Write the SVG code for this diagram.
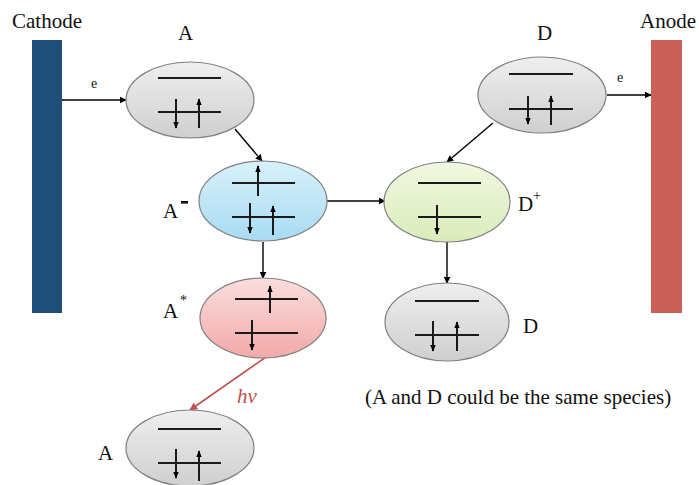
<svg xmlns="http://www.w3.org/2000/svg" width="699" height="485" viewBox="0 0 699 485">
  <defs>
    <linearGradient id="gGray" x1="0" y1="0" x2="0" y2="1">
      <stop offset="0" stop-color="#efefef"/>
      <stop offset="1" stop-color="#cfcfcf"/>
    </linearGradient>
    <linearGradient id="gBlue" x1="0" y1="0" x2="0" y2="1">
      <stop offset="0" stop-color="#d8f1fb"/>
      <stop offset="1" stop-color="#a8dbf2"/>
    </linearGradient>
    <linearGradient id="gPink" x1="0" y1="0" x2="0" y2="1">
      <stop offset="0" stop-color="#fbdede"/>
      <stop offset="1" stop-color="#f3a9a9"/>
    </linearGradient>
    <linearGradient id="gGreen" x1="0" y1="0" x2="0" y2="1">
      <stop offset="0" stop-color="#f1f8e2"/>
      <stop offset="1" stop-color="#daecba"/>
    </linearGradient>
    <marker id="ah" viewBox="0 0 10 10" refX="9" refY="5" markerWidth="7" markerHeight="7" orient="auto" markerUnits="userSpaceOnUse">
      <path d="M0,0 L10,5 L0,10 z" fill="#000"/>
    </marker>
    <marker id="ahRed" viewBox="0 0 10 10" refX="9" refY="5" markerWidth="8" markerHeight="8" orient="auto" markerUnits="userSpaceOnUse">
      <path d="M0,0 L10,5 L0,10 z" fill="#c0504d"/>
    </marker>
    <marker id="spin" viewBox="0 0 10 10" refX="9" refY="5" markerWidth="7" markerHeight="7" orient="auto" markerUnits="userSpaceOnUse">
      <path d="M0,1 L10,5 L0,9 z" fill="#000"/>
    </marker>
  </defs>
  <style>
    text { font-family: "Liberation Serif", "DejaVu Serif", serif; fill: #111; }
    .lbl { font-size: 21px; }
    .small { font-size: 14px; }
    .ell { stroke: #7f7f7f; stroke-width: 1.2; }
    .lvl { stroke: #1a1a1a; stroke-width: 2; }
    .sp { stroke: #1a1a1a; stroke-width: 2; marker-end: url(#spin); }
    .conn { stroke: #000; stroke-width: 1.4; fill: none; marker-end: url(#ah); }
  </style>

  <rect width="699" height="485" fill="#fff"/>

  <!-- electrodes -->
  <g id="cathode">
    <rect x="32" y="40" width="30" height="273" fill="#1f4e79"/>
    <text class="lbl" x="12" y="28" font-family="Liberation Serif, serif">Cathode</text>
  </g>
  <g id="anode">
    <rect x="651" y="40" width="31" height="273" fill="#c9605a"/>
    <text class="lbl" x="640" y="28" font-family="Liberation Serif, serif">Anode</text>
  </g>

  <!-- connectors -->
  <g id="connectors">
    <line class="conn" x1="62" y1="100" x2="126" y2="100"/>
    <text class="small" x="91" y="88">e</text>
    <line class="conn" x1="235" y1="129" x2="262" y2="161"/>
    <line class="conn" x1="327" y1="201" x2="385" y2="201"/>
    <line class="conn" x1="263" y1="242" x2="263" y2="278"/>
    <line class="conn" x1="493" y1="123" x2="447" y2="162"/>
    <line class="conn" x1="447" y1="242" x2="447" y2="283"/>
    <line class="conn" x1="607" y1="95" x2="651" y2="95"/>
    <text class="small" x="617" y="82">e</text>
    <line x1="266" y1="357" x2="190" y2="410" stroke="#c0504d" stroke-width="1.6" marker-end="url(#ahRed)"/>
    <text class="lbl" x="237" y="403" font-style="italic" style="fill:#c0504d">hv</text>
  </g>

  <!-- A (top) -->
  <g id="nodeA">
    <ellipse class="ell" cx="190" cy="100" rx="64" ry="38" fill="url(#gGray)"/>
    <line class="lvl" x1="158" y1="78" x2="221" y2="78"/>
    <line class="lvl" x1="158" y1="112" x2="221" y2="112"/>
    <line class="sp" x1="176" y1="99" x2="176" y2="128"/>
    <line class="sp" x1="199" y1="128" x2="199" y2="99"/>
    <text class="lbl" x="178" y="40">A</text>
  </g>

  <!-- A- (blue) -->
  <g id="nodeAminus">
    <ellipse class="ell" cx="263" cy="201" rx="64" ry="40" fill="url(#gBlue)"/>
    <line class="lvl" x1="232" y1="183" x2="295" y2="183"/>
    <line class="lvl" x1="232" y1="217" x2="295" y2="217"/>
    <line class="sp" x1="258" y1="196" x2="258" y2="166"/>
    <line class="sp" x1="250" y1="203" x2="250" y2="233"/>
    <line class="sp" x1="273" y1="235" x2="273" y2="206"/>
    <text class="lbl" x="163" y="218">A</text>
    <rect x="181" y="201" width="7" height="2.6" fill="#111"/>
  </g>

  <!-- A* (pink) -->
  <g id="nodeAstar">
    <ellipse class="ell" cx="263" cy="318" rx="63" ry="40" fill="url(#gPink)"/>
    <line class="lvl" x1="235" y1="299" x2="298" y2="299"/>
    <line class="lvl" x1="235" y1="333" x2="298" y2="333"/>
    <line class="sp" x1="270" y1="313" x2="270" y2="286"/>
    <line class="sp" x1="252" y1="320" x2="252" y2="350"/>
    <text class="lbl" x="163" y="318">A</text>
    <text class="small" x="180" y="305" font-size="13">*</text>
  </g>

  <!-- A (bottom) -->
  <g id="nodeAground">
    <ellipse class="ell" cx="190" cy="448" rx="64" ry="38" fill="url(#gGray)"/>
    <line class="lvl" x1="158" y1="429" x2="221" y2="429"/>
    <line class="lvl" x1="158" y1="463" x2="221" y2="463"/>
    <line class="sp" x1="176" y1="449" x2="176" y2="478"/>
    <line class="sp" x1="199" y1="481" x2="199" y2="451"/>
    <text class="lbl" x="98" y="460">A</text>
  </g>

  <!-- D (top) -->
  <g id="nodeD">
    <ellipse class="ell" cx="542" cy="95" rx="64" ry="38" fill="url(#gGray)"/>
    <line class="lvl" x1="509" y1="74" x2="573" y2="74"/>
    <line class="lvl" x1="509" y1="109" x2="573" y2="109"/>
    <line class="sp" x1="528" y1="96" x2="528" y2="124"/>
    <line class="sp" x1="551" y1="125" x2="551" y2="96"/>
    <text class="lbl" x="537" y="40">D</text>
  </g>

  <!-- D+ (green) -->
  <g id="nodeDplus">
    <ellipse class="ell" cx="447" cy="202" rx="63" ry="40" fill="url(#gGreen)"/>
    <line class="lvl" x1="418" y1="183" x2="481" y2="183"/>
    <line class="lvl" x1="418" y1="217" x2="481" y2="217"/>
    <line class="sp" x1="437" y1="205" x2="437" y2="234"/>
    <text class="lbl" x="518" y="211">D</text>
    <text class="small" x="533" y="200" font-size="13">+</text>
  </g>

  <!-- D (bottom) -->
  <g id="nodeDground">
    <ellipse class="ell" cx="447" cy="322" rx="62" ry="39" fill="url(#gGray)"/>
    <line class="lvl" x1="415" y1="301" x2="479" y2="301"/>
    <line class="lvl" x1="415" y1="335" x2="479" y2="335"/>
    <line class="sp" x1="433" y1="321" x2="433" y2="351"/>
    <line class="sp" x1="457" y1="351" x2="457" y2="322"/>
    <text class="lbl" x="523" y="333">D</text>
  </g>

  <text class="lbl" x="365" y="404">(A and D could be the same species)</text>
</svg>
